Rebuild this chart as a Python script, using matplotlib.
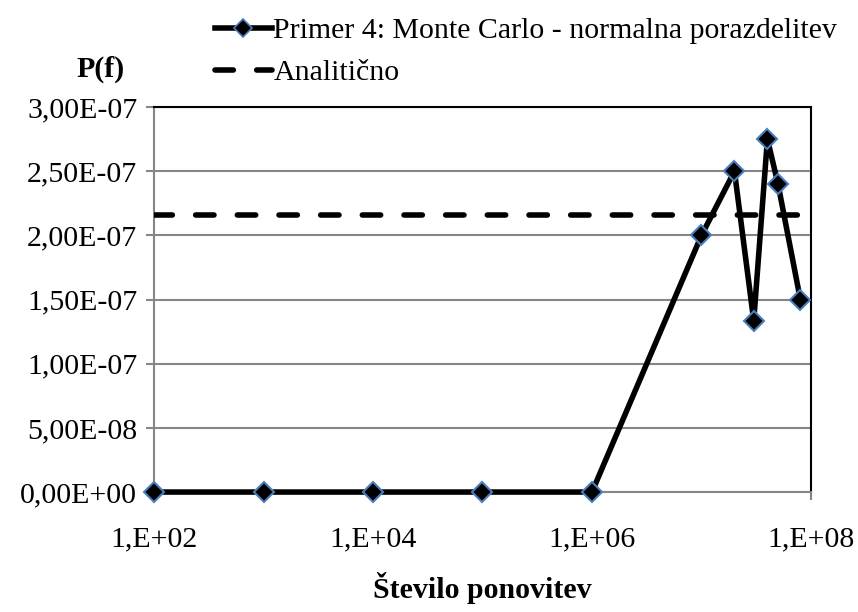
import numpy as np
import matplotlib
matplotlib.use("Agg")
import matplotlib.pyplot as plt
from matplotlib.lines import Line2D

plt.rcParams['font.family'] = ['Liberation Serif', 'DejaVu Serif']

# Monte Carlo results (number of repetitions vs probability of failure)
n_rep = [1e2, 1e3, 1e4, 1e5, 1e6, 1e7, 2e7, 3e7, 4e7, 5e7, 8e7]
p_mc = [0, 0, 0, 0, 0, 2.0e-7, 2.5e-7, 1.335e-7, 2.75e-7, 2.4e-7, 1.5e-7]
x_range = [1e2, 1e8]
p_analytic = 2.16e-7

y_ticks = [0, 5e-8, 1e-7, 1.5e-7, 2e-7, 2.5e-7, 3e-7]
y_labels = ["0,00E+00", "5,00E-08", "1,00E-07", "1,50E-07", "2,00E-07", "2,50E-07", "3,00E-07"]
x_ticks = [1e2, 1e4, 1e6, 1e8]
x_labels = ["1,E+02", "1,E+04", "1,E+06", "1,E+08"]

grey = '#868686'
edge_blue = '#4a7ebb'
fs = 21.5

fig = plt.figure(figsize=(8.58, 6.12), dpi=100)
ax = fig.add_axes([0.1795, 0.196, 0.7657, 0.6291])

ax.plot(n_rep, p_mc, color='black', lw=4, marker='D', ms=10,
        mfc='black', mec=edge_blue, mew=1.5, zorder=4,
        solid_joinstyle='miter', clip_on=False)
ax.plot(x_range, [p_analytic, p_analytic], color='black', lw=4,
        dashes=(3.3, 4.2), dash_capstyle='round', zorder=3)

ax.set_xscale('log')
ax.set_xlim(x_range)
ax.set_ylim(0, 3e-7)
ax.set_xticks(x_ticks)
ax.set_xticklabels(x_labels)
ax.xaxis.set_minor_locator(matplotlib.ticker.NullLocator())
ax.set_yticks(y_ticks)
ax.set_yticklabels(y_labels)

ax.yaxis.grid(True, color=grey, lw=1.5)
ax.set_axisbelow(True)
for s in ['left', 'bottom']:
    ax.spines[s].set_color(grey)
    ax.spines[s].set_linewidth(1.5)
for s in ['top', 'right']:
    ax.spines[s].set_color('black')
    ax.spines[s].set_linewidth(1.5)

ax.tick_params(axis='both', labelsize=fs, color=grey, width=1.5, length=6,
               direction='out')
ax.tick_params(axis='x', pad=19)
ax.tick_params(axis='y', pad=6)

ax.set_xlabel("Število ponovitev", fontsize=fs, fontweight='bold', labelpad=14)
fig.text(0.117, 0.887, "P(f)", fontsize=fs, fontweight='bold', ha='center', va='center')

handles = [
    Line2D([], [], color='black', lw=4, marker='D', ms=9, mfc='black',
           mec=edge_blue, mew=1.2),
    Line2D([], [], color='black', lw=4, dashes=(3.3, 4.2), dash_capstyle='round'),
]
fig.legend(handles, ["Primer 4: Monte Carlo - normalna porazdelitev", "Analitično"],
           loc='upper left', bbox_to_anchor=(0.2506, 0.972), frameon=False,
           fontsize=fs, handlelength=1.9, handletextpad=0.05, labelspacing=0.52,
           borderaxespad=0, borderpad=0)

fig.savefig("out.png", dpi=100)
